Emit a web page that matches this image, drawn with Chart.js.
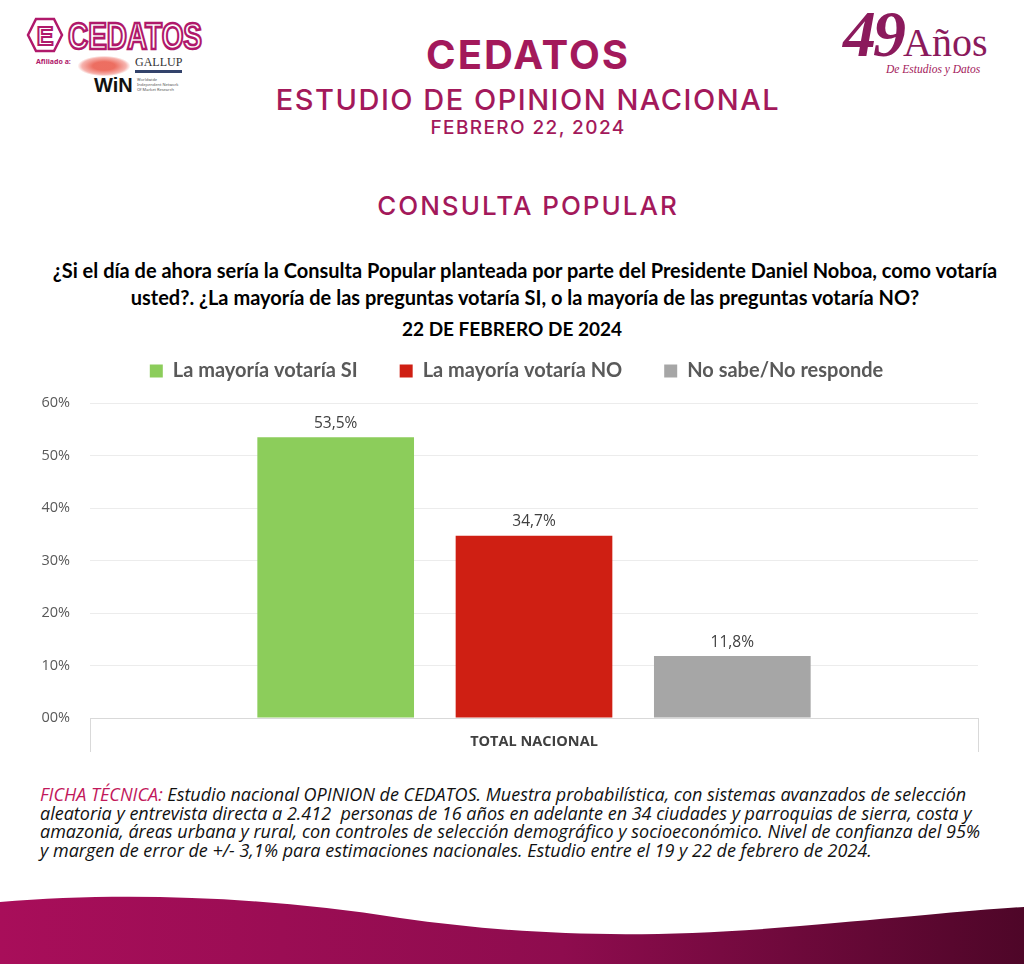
<!DOCTYPE html>
<html>
<head>
<meta charset="utf-8">
<script src="https://cdn.jsdelivr.net/npm/chart.js@4.4.1/dist/chart.umd.min.js"></script>
<style>
  body { margin: 0; background: #fff; }
  #pagina { position: relative; width: 1024px; height: 964px; overflow: hidden; background: #fff; font-family: "Noto Sans", sans-serif; }
  .centro { position: absolute; left: 16px; width: 1024px; text-align: center; color: #a3195b; font-family: "Inter", "Noto Sans", sans-serif; }
  #t1 { top: 30px; font-size: 40px; font-weight: 700; letter-spacing: 2px; }
  #t2 { top: 82px; font-size: 29px; font-weight: 500; letter-spacing: 1.5px; }
  #t3 { top: 116px; font-size: 19px; font-weight: 500; letter-spacing: 1.4px; }
  #t4 { top: 190px; font-size: 26px; font-weight: 500; letter-spacing: 2px; }
  #pregunta { position: absolute; top: 257px; left: 33px; width: 984px; text-align: center; font-family: "Lato", sans-serif; font-weight: 700; font-size: 20px; line-height: 27px; color: #000; }
  #fecha { position: absolute; top: 317px; left: 0; width: 1024px; text-align: center; font-family: "Lato", sans-serif; font-weight: 700; font-size: 19px; color: #000; }
  #grafico { position: absolute; left: 0; top: 319px; width: 1024px; height: 456px; }
  #ficha { position: absolute; left: 40px; top: 785px; white-space: nowrap; font-family: "Open Sans", sans-serif; font-style: italic; font-size: 18px; line-height: 18.5px; color: #111; letter-spacing: 0px; }
  #ficha span { color: #c2185b; }
  #afil { position: absolute; left: 36px; top: 57px; font-size: 7px; font-weight: 700; color: #b0196b; }
  #win { position: absolute; left: 94px; top: 74px; font-family: "Liberation Sans"; font-weight: 700; font-size: 20px; color: #111; }
  #winsub { position: absolute; left: 137px; top: 77px; font-size: 4px; line-height: 5px; color: #555; }
  #gallup { position: absolute; left: 135px; top: 55px; font-family: "Liberation Serif"; font-size: 12px; color: #333; border-bottom: 3px solid #33436b; }
  #mapa { position: absolute; left: 78px; top: 56px; width: 52px; height: 20px; background: radial-gradient(ellipse, #e84a3a 30%, #f4a09a 60%, transparent 72%); opacity: 0.8; }
  #anios { position: absolute; left: 843px; top: -4px; font-family: "Liberation Serif", serif; color: #8b1a5c; }
  #anios b { font-size: 66px; font-style: italic; font-weight: 700; letter-spacing: -3px; }
  #anios i { font-style: normal; font-size: 40px; }
  #anios2 { position: absolute; left: 886px; top: 63px; font-family: "Liberation Serif", serif; font-style: italic; font-size: 11.5px; color: #a3195b; }
  #logo { position: absolute; left: 26px; top: 16px; }
  #ola { position: absolute; left: 0; top: 880px; }
</style>
</head>
<body>
<div id="pagina">
  <svg id="logo" width="180" height="40" viewBox="0 0 180 40">
    <polygon points="10,3 28,3 36,19 28,35 10,35 2,19" fill="#fff" stroke="#b0196b" stroke-width="2.5"/>
    <text x="19" y="29" text-anchor="middle" font-family="Liberation Sans" font-weight="700" font-size="25" fill="#fff" stroke="#b0196b" stroke-width="2">E</text>
    <text x="42" y="33" textLength="134" lengthAdjust="spacingAndGlyphs" font-family="Liberation Sans" font-weight="700" font-size="36" fill="#fff" stroke="#b0196b" stroke-width="2.6">CEDATOS</text>
  </svg>
  <div id="afil">Afiliado a:</div>
  <div id="mapa"></div>
  <div id="gallup">GALLUP</div>
  <div id="win">WiN</div>
  <div id="winsub">Worldwide<br>Independent Network<br>Of Market Research</div>
  <div id="anios"><b>49</b><i>Años</i></div>
  <div id="anios2">De Estudios y Datos</div>

  <div class="centro" id="t1">CEDATOS</div>
  <div class="centro" id="t2">ESTUDIO DE OPINION NACIONAL</div>
  <div class="centro" id="t3">FEBRERO 22, 2024</div>
  <div class="centro" id="t4">CONSULTA POPULAR</div>
  <div id="pregunta">¿Si el día de ahora sería la Consulta Popular planteada por parte del Presidente Daniel Noboa, como votaría usted?. ¿La mayoría de las preguntas votaría SI, o la mayoría de las preguntas votaría NO?</div>
  <div id="fecha">22 DE FEBRERO DE 2024</div>

  <div id="grafico"><canvas id="lienzo"></canvas></div>

  <div id="ficha"><span>FICHA TÉCNICA:</span> Estudio nacional OPINION de CEDATOS. Muestra probabilística, con sistemas avanzados de selección<br>aleatoria y entrevista directa a 2.412&nbsp; personas de 16 años en adelante en 34 ciudades y parroquias de sierra, costa y<br>amazonia, áreas urbana y rural, con controles de selección demográfico y socioeconómico. Nivel de confianza del 95%<br>y margen de error de +/- 3,1% para estimaciones nacionales. Estudio entre el 19 y 22 de febrero de 2024.</div>

  <svg id="ola" width="1024" height="84" viewBox="0 0 1024 84">
    <defs>
      <linearGradient id="grad" x1="0" x2="1" y1="0" y2="0">
        <stop offset="0" stop-color="#a80e5a"/>
        <stop offset="0.55" stop-color="#8e0c4e"/>
        <stop offset="1" stop-color="#4e0628"/>
      </linearGradient>
    </defs>
    <path d="M0 22 C 120 12, 260 16, 400 38 C 520 55, 640 60, 800 46 C 900 38, 970 30, 1024 27 L1024 84 L0 84 Z" fill="url(#grad)"/>
  </svg>
</div>

<script>
// Datos del gráfico
const categorias = ['TOTAL NACIONAL'];
const series = ['La mayoría votaría SI', 'La mayoría votaría NO', 'No sabe/No responde'];
const valores = [53.5, 34.7, 11.8];
const colores = ['#8ccd5b', '#cf1f13', '#a6a6a6'];
const ticksY = [0, 10, 20, 30, 40, 50, 60];

// Etiquetas encima de las barras (formato con coma decimal)
const etiquetasBarras = {
    id: 'etiquetasBarras',
    afterDatasetsDraw(chart) {
        const ctx = chart.ctx;
        ctx.save();
        ctx.font = '15.5px "Open Sans", sans-serif';
        ctx.fillStyle = '#404040';
        ctx.textAlign = 'center';
        ctx.textBaseline = 'bottom';
        chart.data.datasets.forEach((ds, i) => {
            const meta = chart.getDatasetMeta(i);
            meta.data.forEach((bar, j) => {
                const texto = ds.data[j].toFixed(1).replace('.', ',') + '%';
                ctx.fillText(texto, bar.x, bar.y - 6);
            });
        });
        ctx.restore();
    }
};

// La leyenda ocupa menos alto que su padding y se centra algo a la derecha
const ajusteLeyenda = {
    id: 'ajusteLeyenda',
    beforeInit(chart) {
        const fitOrig = chart.legend.fit;
        chart.legend.fit = function () {
            fitOrig.bind(chart.legend)();
            this.height = 84;
        };
    },
    afterLayout(chart) {
        chart.legend.left = 55;
        chart.legend.right = 978;
    }
};

const datasets = series.map((nombre, i) => ({
    label: nombre,
    data: [valores[i]],
    backgroundColor: colores[i],
    borderWidth: 0,
    barPercentage: 0.79,
    categoryPercentage: 0.67
}));

new Chart(document.getElementById('lienzo'), {
    type: 'bar',
    data: { labels: categorias, datasets: datasets },
    plugins: [etiquetasBarras, ajusteLeyenda],
    options: {
        responsive: true,
        maintainAspectRatio: false,
        animation: false,
        layout: { padding: { left: 0, right: 46, top: 0, bottom: 0 } },
        plugins: {
            legend: {
                position: 'top',
                labels: {
                    boxWidth: 13,
                    boxHeight: 13,
                    padding: 42,
                    color: '#595959',
                    font: { family: 'Lato', size: 20, weight: '700' }
                }
            },
            tooltip: { enabled: false }
        },
        scales: {
            x: {
                afterFit(scale) { scale.height = 57; },
                grid: { drawOnChartArea: false, color: '#d9d9d9', tickLength: 34 },
                border: { display: true, color: '#d9d9d9' },
                ticks: {
                    color: '#404040',
                    padding: -19,
                    font: { family: 'Open Sans', size: 14.5, weight: '700' }
                }
            },
            y: {
                min: 0,
                max: 60,
                afterFit(scale) { scale.width = 90; },
                afterBuildTicks(scale) { scale.ticks = ticksY.map(v => ({ value: v })); },
                grid: { color: '#ececec', drawTicks: false },
                border: { display: false },
                ticks: {
                    color: '#595959',
                    padding: 20,
                    font: { family: 'Open Sans', size: 14.5 },
                    callback: v => (v === 0 ? '00' : v) + '%'
                }
            }
        }
    }
});
</script>
</body>
</html>
